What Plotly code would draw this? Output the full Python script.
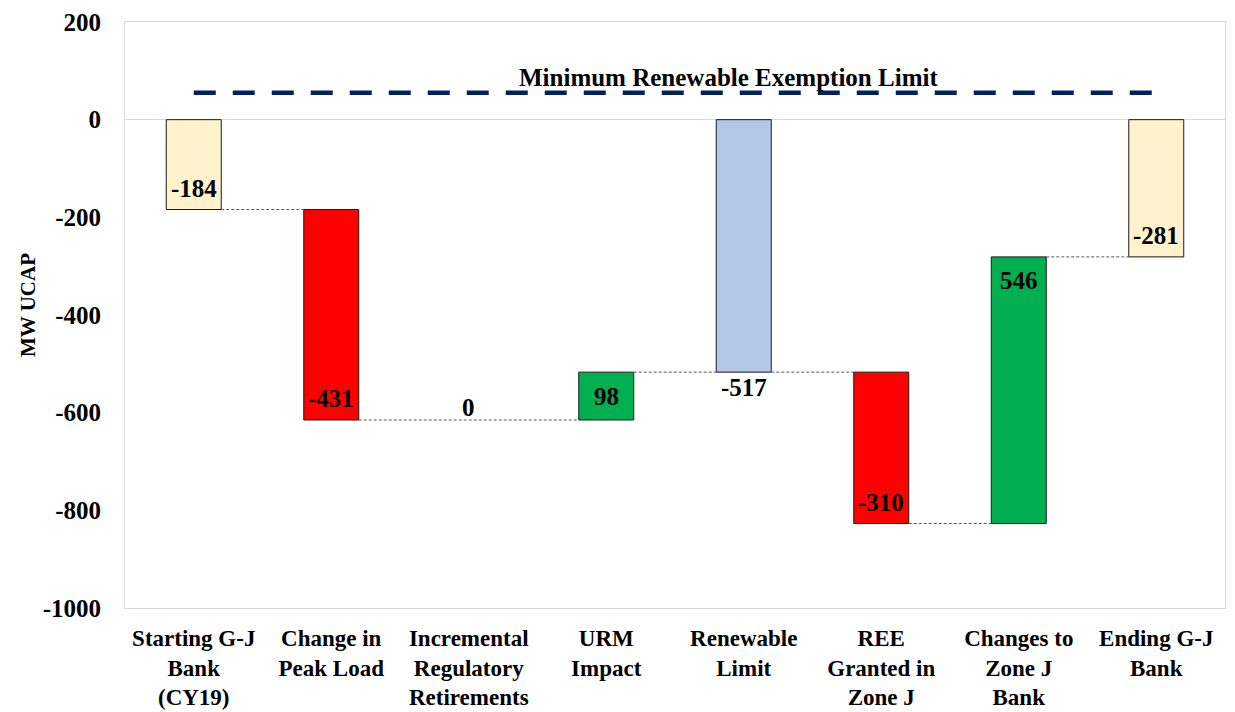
import plotly.graph_objects as go

# Waterfall of the G-J capacity bank (MW UCAP)
categories = [
    "Starting G-J<br>Bank<br>(CY19)",
    "Change in<br>Peak Load",
    "Incremental<br>Regulatory<br>Retirements",
    "URM<br>Impact",
    "Renewable<br>Limit",
    "REE<br>Granted in<br>Zone J",
    "Changes to<br>Zone J<br>Bank",
    "Ending G-J<br>Bank",
]
values = [-184, -431, 0, 98, -517, -310, 546, -281]
is_total = [True, False, False, False, True, False, False, True]
exemption_limit = 55
y_ticks = [200, 0, -200, -400, -600, -800, -1000]
y_tick_labels = ["200", "0", "-200", "-400", "-600", "-800", "-1000"]

colors = ["#FFF2CC", "#FF0000", "#FF0000", "#00B050",
          "#B4C7E7", "#FF0000", "#00B050", "#FFF2CC"]
label_pos = ["end", "end", "above", "mid", "outside", "end", "end", "end"]

FONT = "Liberation Serif"
BAR_W = 0.4
L, R, T, B = 125, 10, 22, 104

# bases and running totals
bases, ends = [], []
running = 0
for v, tot in zip(values, is_total):
    base = 0 if tot else running
    bases.append(base)
    running = base + v
    ends.append(running)

xs = list(range(len(categories)))

fig = go.Figure()
fig.add_trace(go.Bar(
    x=xs, y=values, base=bases, width=BAR_W,
    marker=dict(color=colors,
                line=dict(color="#1a1a1a",
                          width=[1 if v != 0 else 0 for v in values])),
    hoverinfo="skip", showlegend=False,
))

# connectors at the running total, running through zero-height bars
for i in range(len(xs) - 1):
    if values[i] == 0:
        continue
    j = i + 1
    while j < len(xs) - 1 and values[j] == 0:
        j += 1
    fig.add_trace(go.Scatter(
        x=[i + BAR_W / 2, j - BAR_W / 2], y=[ends[i], ends[i]],
        mode="lines", line=dict(color="#595959", width=1, dash="3px,2px"),
        hoverinfo="skip", showlegend=False,
    ))

# dashed exemption limit line
fig.add_trace(go.Scatter(
    x=[xs[0], xs[-1]], y=[exemption_limit, exemption_limit],
    mode="lines", line=dict(color="#002060", width=4.5, dash="22px,17px"),
    hoverinfo="skip", showlegend=False,
))
fig.add_annotation(
    x=3.89, y=exemption_limit, yanchor="bottom", yshift=0,
    text="Minimum Renewable Exemption Limit", showarrow=False,
    font=dict(family=FONT, size=25, color="black", weight="bold"),
)

# value labels
for i, (v, b, e, pos) in enumerate(zip(values, bases, ends, label_pos)):
    if pos == "end":
        if v < 0:
            y, anchor, shift = e, "bottom", 6
        else:
            y, anchor, shift = e, "top", -8
    elif pos == "mid":
        y, anchor, shift = (b + e) / 2, "middle", 0
    elif pos == "outside":
        y, anchor, shift = e, "top", 0
    else:
        y, anchor, shift = e, "bottom", -3
    fig.add_annotation(
        x=i, y=y, yanchor=anchor, yshift=shift, text=f"{v}", showarrow=False,
        font=dict(family=FONT, size=25, color="black", weight="bold"),
    )

# y-axis title
plot_h = 712 - T - B
fig.add_annotation(
    xref="paper", yref="paper", x=-(L - 28) / (1235 - L - R),
    y=0.5 + 10 / plot_h,
    xanchor="center", yanchor="middle", textangle=-90,
    text="MW UCAP", showarrow=False,
    font=dict(family=FONT, size=21, color="black", weight="bold"),
)

fig.update_layout(
    width=1235, height=712,
    margin=dict(l=L, r=R, t=T, b=B, autoexpand=False),
    paper_bgcolor="white", plot_bgcolor="white",
    font=dict(family=FONT, color="black", weight="bold"),
    bargap=0.6,
)
fig.update_xaxes(
    range=[-0.5, len(xs) - 0.5], tickvals=xs, ticktext=categories,
    tickfont=dict(family=FONT, size=23, color="black", weight="bold"),
    showgrid=False, zeroline=False, ticks="", automargin=False,
    showline=True, mirror=True, linecolor="#d9d9d9", linewidth=1,
    ticklabelstandoff=9,
)
fig.update_yaxes(
    range=[-1000, 200], tickvals=y_ticks, ticktext=y_tick_labels,
    tickfont=dict(family=FONT, size=25, color="black", weight="bold"),
    showgrid=False, zeroline=True, zerolinecolor="#d9d9d9", zerolinewidth=1,
    showline=True, mirror=True, linecolor="#d9d9d9", linewidth=1,
    ticks="", ticklabelstandoff=18, automargin=False,
)

fig.write_html("out.html")
